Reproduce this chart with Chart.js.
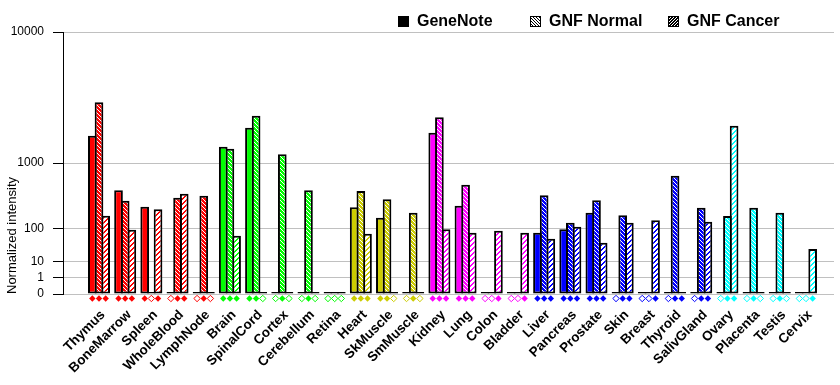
<!DOCTYPE html>
<html>
<head>
<meta charset="utf-8">
<script src="https://cdn.jsdelivr.net/npm/chart.js@4/dist/chart.umd.min.js"></script>
<style>
html,body{margin:0;padding:0;background:#fff;}
#wrap{width:840px;height:385px;}
</style>
</head>
<body>
<div id="wrap"><canvas id="c" width="840" height="385"></canvas></div>
<script>
// ---------- data ----------
const CATS = ['Thymus','BoneMarrow','Spleen','WholeBlood','LymphNode','Brain','SpinalCord','Cortex','Cerebellum','Retina','Heart','SkMuscle','SmMuscle','Kidney','Lung','Colon','Bladder','Liver','Pancreas','Prostate','Skin','Breast','Thyroid','SalivGland','Ovary','Placenta','Testis','Cervix'];
// null = not measured (hollow marker)
const GENENOTE   = [1870, 460, 260, null, null, 1476, 2209, null, null, null, 254, 166, null, 1996, 270, null, null, 80, 96, 205, null, null, null, null, null, null, null, null];
const GNF_NORMAL = [3540, 324, null, 360, 385, 1411, 2784, 1238, 460, null, 450, 340, 205, 2702, 548, null, null, 390, 132, 328, 184, null, 713, 250, 179, 250, 205, null];
const GNF_CANCER = [181, 94, 235, 412, null, 68, null, null, null, null, 76, null, null, 96, 80, 89, 80, 57, 109, 44, 132, 148, 0, 139, 2299, null, null, 29];
const SERIES_NAMES = ['GeneNote', 'GNF Normal', 'GNF Cancer'];
const Y_TICKS = [0, 1, 10, 100, 1000, 10000];
const Y_TICK_LABELS = ['0', '1', '10', '100', '1000', '10000'];

// ---------- styles ----------
const CAT_COLORS = [
  '#ff0000','#ff0000','#ff0000','#ff0000','#ff0000',
  '#00ff00','#00ff00','#00ff00','#00ff00','#00ff00',
  '#cccc00','#cccc00','#cccc00',
  '#ff00ff','#ff00ff','#ff00ff','#ff00ff',
  '#0000ff','#0000ff','#0000ff','#0000ff','#0000ff','#0000ff','#0000ff',
  '#00ffff','#00ffff','#00ffff','#00ffff'
];
const FONT = "Arial, 'Liberation Sans', sans-serif";

// ---------- power scale (pixel ~ value^log10(2)) ----------
const P = Math.log10(2);
class PowScale extends Chart.LinearScale {
  _t(v) { return Math.sign(v) * Math.pow(Math.abs(v), P); }
  buildTicks() { return Y_TICKS.map(v => ({ value: v })); }
  getPixelForValue(v) {
    if (v === null || v === undefined || isNaN(v)) return NaN;
    const a = this._t(this.min), b = this._t(this.max);
    return this.getPixelForDecimal((this._t(v) - a) / (b - a));
  }
  getValueForPixel(p) {
    const a = this._t(this.min), b = this._t(this.max);
    const t = a + this.getDecimalForPixel(p) * (b - a);
    return Math.sign(t) * Math.pow(Math.abs(t), 1 / P);
  }
}
PowScale.id = 'pow10';
PowScale.defaults = Chart.LinearScale.defaults;
Chart.register(PowScale);

const canvas = document.getElementById('c');
const ctx0 = canvas.getContext('2d');

function tile(w, h, bg, fg, test) {
  const c = document.createElement('canvas');
  c.width = w; c.height = h;
  const x = c.getContext('2d');
  x.fillStyle = bg; x.fillRect(0, 0, w, h);
  x.fillStyle = fg;
  for (let i = 0; i < w; i++) for (let j = 0; j < h; j++) if (test(i, j)) x.fillRect(i, j, 1, 1);
  return ctx0.createPattern(c, 'repeat');
}
const normalPattern = col => tile(4, 4, col, '#ffffff', (i, j) => i === j);
const cancerPattern = col => tile(5, 5, '#ffffff', col, (i, j) => ((i + j) % 5) < 2);
const legendNormal = tile(3, 3, '#ffffff', '#000000', (i, j) => i === j);
const legendCancer = tile(3, 3, '#000000', '#ffffff', (i, j) => (i + j) % 3 === 0);

const SERIES = [GENENOTE, GNF_NORMAL, GNF_CANCER];
const FILLS = [CAT_COLORS, CAT_COLORS.map(normalPattern), CAT_COLORS.map(cancerPattern)];

// markers below the axis: filled = measured, hollow = not measured
const markerPlugin = {
  id: 'markers',
  afterDatasetsDraw(chart) {
    const { ctx, chartArea } = chart;
    const y = chartArea.bottom + 4.5;
    const r = 3.2;
    ctx.save();
    SERIES.forEach((arr, d) => {
      const meta = chart.getDatasetMeta(d);
      meta.data.forEach((bar, i) => {
        const x = bar.x;
        ctx.beginPath();
        ctx.moveTo(x, y - r); ctx.lineTo(x + r, y); ctx.lineTo(x, y + r); ctx.lineTo(x - r, y); ctx.closePath();
        if (arr[i] !== null) {
          ctx.fillStyle = CAT_COLORS[i]; ctx.fill();
        } else {
          ctx.fillStyle = '#fff'; ctx.fill();
          ctx.strokeStyle = CAT_COLORS[i]; ctx.lineWidth = 1; ctx.stroke();
        }
      });
    });
    ctx.restore();
  }
};

const LEGEND_X = [398, 530, 668];
const LEGEND_FILLS = ['#000000', legendNormal, legendCancer];
const legendPlugin = {
  id: 'customLegend',
  afterDraw(chart) {
    const { ctx } = chart;
    ctx.save();
    ctx.font = "bold 16px " + FONT;
    ctx.textBaseline = 'middle';
    ctx.textAlign = 'left';
    chart.data.datasets.forEach((ds, d) => {
      const x = LEGEND_X[d], y = 16;
      ctx.fillStyle = LEGEND_FILLS[d];
      ctx.fillRect(x, y, 11, 11);
      ctx.strokeStyle = '#000'; ctx.lineWidth = 1;
      ctx.strokeRect(x + 0.5, y + 0.5, 10, 10);
      ctx.fillStyle = '#000';
      ctx.fillText(ds.label, x + 19, y + 6);
    });
    ctx.restore();
  }
};

new Chart(canvas, {
  type: 'bar',
  data: {
    datasets: SERIES.map((arr, d) => ({
      label: SERIES_NAMES[d],
      data: arr.map((v, i) => ({ x: i, y: v === null ? 0 : v })),
      backgroundColor: FILLS[d],
      borderColor: '#000',
      borderWidth: 2,
      borderSkipped: false,
      minBarLength: 2,
      categoryPercentage: 0.764,
      barPercentage: 1.3
    }))
  },
  options: {
    responsive: false,
    animation: false,
    events: [],
    layout: { padding: { top: 32, right: 6, left: 0, bottom: 0 } },
    plugins: { legend: { display: false }, tooltip: { enabled: false } },
    scales: {
      x: {
        type: 'linear',
        min: -1.375,
        max: 28.07,
        offset: false,
        grid: { display: false },
        border: { display: false },
        afterBuildTicks: s => { s.ticks = CATS.map((_, i) => ({ value: i })); },
        afterFit: s => { s.height = 91; },
        ticks: {
          autoSkip: false, minRotation: 45, maxRotation: 45, padding: 5, labelOffset: 4,
          color: '#000', font: { family: FONT, size: 13.5, weight: 'bold' },
          callback: v => CATS[v]
        }
      },
      y: {
        type: 'pow10',
        min: 0,
        max: 10000,
        afterFit: s => { s.width = 63; },
        grid: { color: '#c0c0c0', tickColor: '#000', tickLength: 10 },
        border: { color: '#000', width: 1 },
        ticks: {
          padding: 9, color: '#000', font: { family: FONT, size: 12 },
          callback: (v, i) => Y_TICK_LABELS[i]
        },
        title: {
          display: true, text: 'Normalized intensity', align: 'start',
          color: '#000', font: { family: FONT, size: 13 }, padding: { top: 5, bottom: 0 }
        }
      }
    }
  },
  plugins: [markerPlugin, legendPlugin]
});
</script>
</body>
</html>
